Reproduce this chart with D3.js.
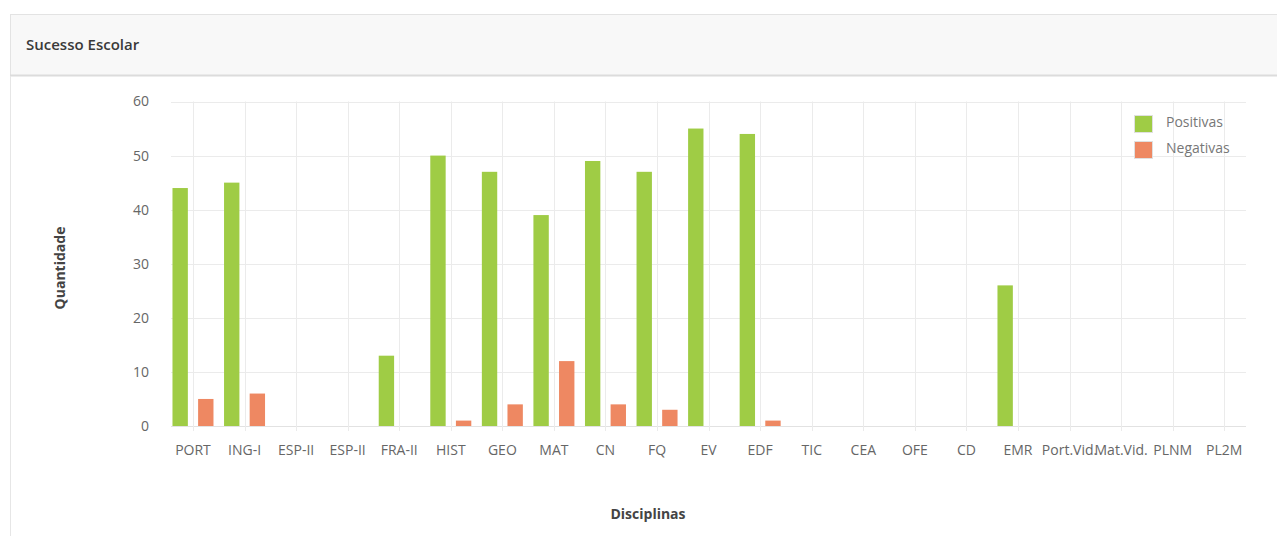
<!DOCTYPE html>
<html>
<head>
<meta charset="utf-8">
<script src="https://cdn.jsdelivr.net/npm/d3@7"></script>
<style>
  body { margin: 0; background: #fff; font-family: 'Open Sans', sans-serif; }
  #container { width: 1277px; height: 536px; }
</style>
</head>
<body>
<div id="container"></div>
<script>

//---------------------
// DATA
//---------------------

const disciplinas = ['PORT', 'ING-I', 'ESP-II', 'ESP-II', 'FRA-II', 'HIST', 'GEO', 'MAT', 'CN', 'FQ',
                     'EV', 'EDF', 'TIC', 'CEA', 'OFE', 'CD', 'EMR', 'Port.Vid.', 'Mat.Vid.', 'PLNM', 'PL2M'];
const positivas = [44, 45, 0, 0, 13, 50, 47, 39, 49, 47, 55, 54, 0, 0, 0, 0, 26, 0, 0, 0, 0];
const negativas = [5, 6, 0, 0, 0, 1, 4, 12, 4, 3, 0, 1, 0, 0, 0, 0, 0, 0, 0, 0, 0];
const series = ['Positivas', 'Negativas'];
const colors = ['#9fcc45', '#ee8862'];
const yTicks = [0, 10, 20, 30, 40, 50, 60];

//---------------------
// SVG + PANEL
//---------------------

const width = 1277, height = 536;
const svg = d3.select('#container')
              .append('svg')
              .attr('width', width)
              .attr('height', height);

// panel header
svg.append('rect')
   .attr('x', 10.5).attr('y', 14.5)
   .attr('width', width).attr('height', 61)
   .attr('fill', '#f8f8f8')
   .attr('stroke', '#e3e3e3');

svg.append('line')
   .attr('x1', 10).attr('x2', width)
   .attr('y1', 75.5).attr('y2', 75.5)
   .attr('stroke', '#dcdcdc').attr('stroke-width', 2);

// panel body left border
svg.append('line')
   .attr('x1', 10.5).attr('x2', 10.5)
   .attr('y1', 76).attr('y2', height)
   .attr('stroke', '#e6e6e6');

svg.append('text')
   .attr('x', 26).attr('y', 50)
   .attr('font-size', 15).attr('font-weight', 600)
   .attr('fill', '#3a3a3a')
   .text('Sucesso Escolar');

//---------------------
// SCALES
//---------------------

const plot = { left: 171, right: 1246, top: 101.5, bottom: 426 };

const x0 = d3.scaleBand()
             .domain(d3.range(disciplinas.length))
             .range([167.2, 1250])
             .padding(0);

const x1 = d3.scaleBand()
             .domain(series)
             .range([-20.5, 20.5])
             .paddingInner(0.4);

const y = d3.scaleLinear()
            .domain([0, 60])
            .range([plot.bottom, plot.top]);

const centre = i => x0(i) + x0.bandwidth() / 2;

//---------------------
// GRID
//---------------------

const grid = svg.append('g').attr('class', 'grid');

grid.selectAll('line.h')
    .data(yTicks)
    .enter()
    .append('line')
    .attr('x1', plot.left).attr('x2', plot.right)
    .attr('y1', d => Math.round(y(d)) + 0.5)
    .attr('y2', d => Math.round(y(d)) + 0.5)
    .attr('stroke', d => d === 0 ? '#e2e2e2' : '#ebebeb');

grid.selectAll('line.v')
    .data(d3.range(disciplinas.length))
    .enter()
    .append('line')
    .attr('x1', d => Math.round(centre(d)) + 0.5)
    .attr('x2', d => Math.round(centre(d)) + 0.5)
    .attr('y1', plot.top).attr('y2', plot.bottom + 5)
    .attr('stroke', '#ebebeb');

//---------------------
// AXES
//---------------------

const axisY = d3.axisLeft(y).tickValues(yTicks).tickSize(0).tickPadding(22);
svg.append('g')
   .attr('transform', `translate(${plot.left}, 0)`)
   .call(axisY)
   .call(g => g.select('.domain').remove())
   .selectAll('text')
   .attr('font-family', 'Open Sans, sans-serif')
   .attr('font-size', 14)
   .attr('fill', '#666');

const axisX = d3.axisBottom(x0).tickFormat(i => disciplinas[i]).tickSize(0).tickPadding(19);
svg.append('g')
   .attr('transform', `translate(0, ${plot.bottom})`)
   .call(axisX)
   .call(g => g.select('.domain').remove())
   .selectAll('text')
   .attr('font-family', 'Open Sans, sans-serif')
   .attr('font-size', 14)
   .attr('fill', '#666');

svg.append('text')
   .attr('transform', `translate(65, 268) rotate(-90)`)
   .attr('text-anchor', 'middle')
   .attr('font-size', 14).attr('font-weight', 700)
   .attr('fill', '#444')
   .text('Quantidade');

svg.append('text')
   .attr('x', 648).attr('y', 519)
   .attr('text-anchor', 'middle')
   .attr('font-size', 14).attr('font-weight', 700)
   .attr('fill', '#444')
   .text('Disciplinas');

//---------------------
// BARS
//---------------------

const rows = disciplinas.map((d, i) => ({ i, values: [positivas[i], negativas[i]] }));

const groups = svg.append('g')
                  .selectAll('g')
                  .data(rows)
                  .enter()
                  .append('g')
                  .attr('transform', d => `translate(${centre(d.i)}, 0)`);

groups.selectAll('rect')
      .data(d => d.values.map((v, k) => ({ key: series[k], v, k })))
      .enter()
      .append('rect')
      .attr('x', d => x1(d.key))
      .attr('width', x1.bandwidth())
      .attr('y', d => y(d.v))
      .attr('height', d => y(0) - y(d.v))
      .attr('fill', d => colors[d.k]);

//---------------------
// LEGEND
//---------------------

const legend = svg.append('g')
                  .attr('transform', 'translate(1134, 115)');

const item = legend.selectAll('g')
                   .data(series)
                   .enter()
                   .append('g')
                   .attr('transform', (d, k) => `translate(0, ${k * 26})`);

item.append('rect')
    .attr('x', 0.5).attr('y', 0.5)
    .attr('width', 18).attr('height', 17)
    .attr('fill', (d, k) => colors[k])
    .attr('stroke', '#e0e0e0');

item.append('text')
    .attr('x', 32).attr('y', 12)
    .attr('font-size', 14)
    .attr('fill', '#777')
    .text(d => d);

</script>
</body>
</html>
